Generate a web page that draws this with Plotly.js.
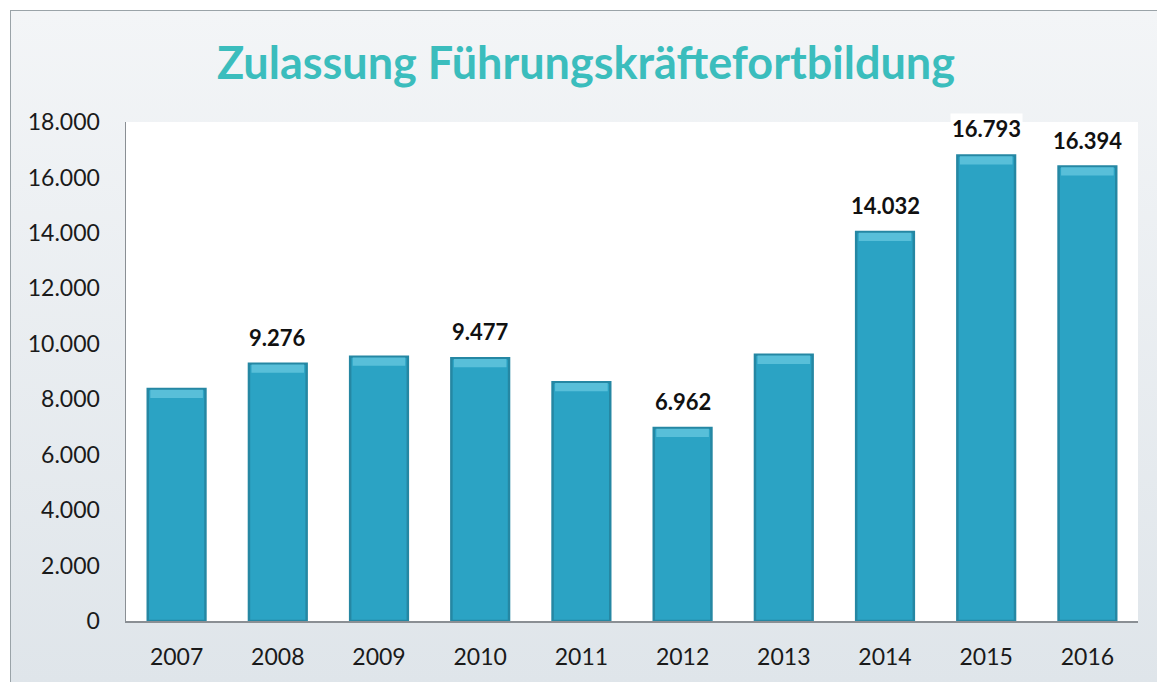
<!DOCTYPE html>
<html>
<head>
<meta charset="utf-8">
<script src="https://cdn.plot.ly/plotly-3.0.1.min.js"></script>
<style>
  html, body { margin: 0; padding: 0; width: 1157px; height: 682px; overflow: hidden; background: #ffffff; }
  #frame { position: absolute; left: 10px; top: 10px; width: 1147px; height: 672px;
           border-left: 1px solid #9aa3a8; border-top: 1px solid #9aa3a8;
           background: linear-gradient(#f3f5f7, #dfe5ea); }
  #chart { position: absolute; left: 0; top: 0; width: 1157px; height: 682px; }
</style>
</head>
<body>
<div id="frame"></div>
<div id="chart"></div>
<script>
const years = ['2007','2008','2009','2010','2011','2012','2013','2014','2015','2016'];
const values = [8370, 9276, 9530, 9477, 8610, 6962, 9600, 14032, 16793, 16394];
const labeledYears = ['2008','2010','2012','2014','2015','2016'];
const yTicks = [0, 2000, 4000, 6000, 8000, 10000, 12000, 14000, 16000, 18000];

const fmt = v => v.toLocaleString('de-DE');
const FONT = 'Lato, "Open Sans", sans-serif';

const bars = {
  type: 'bar', x: years, y: values, width: 0.57,
  marker: { color: '#2ba3c4', line: { color: '#2587a3', width: 2.5 } },
  hoverinfo: 'x+y'
};
// lighter bevel cap on top of each bar
const capH = 300;
const caps = {
  type: 'bar', x: years, y: values.map(() => capH), base: values.map(v => v - capH - 25), width: 0.52,
  marker: { color: '#58bfd9', line: { width: 0 } },
  hoverinfo: 'skip'
};

const annotations = years.map((yr, i) => labeledYears.includes(yr) ? {
  x: i, y: values[i], xref: 'x', yref: 'y', yanchor: 'bottom', yshift: 11,
  text: '<b>' + fmt(values[i]) + '</b>', showarrow: false, bgcolor: '#ffffff',
  font: { family: FONT, size: 22, color: '#111111' }
} : null).filter(a => a);

annotations.push({
  xref: 'paper', yref: 'paper', x: 0.455, y: 1, yshift: 60, xanchor: 'center', yanchor: 'middle',
  text: '<b>Zulassung Führungskräftefortbildung</b>', showarrow: false,
  font: { family: FONT, size: 45, color: '#3bbdbd' }
});

const layout = {
  width: 1157, height: 682,
  paper_bgcolor: 'rgba(0,0,0,0)', plot_bgcolor: '#ffffff',
  margin: { l: 126, r: 19, t: 122, b: 61 },
  separators: ',.',
  barmode: 'overlay', showlegend: false,
  xaxis: { type: 'category', range: [-0.5, 9.5], showline: true, linecolor: '#8a8f94', linewidth: 1.5, ticks: '',
           ticklabelstandoff: 15,
           tickfont: { family: FONT, size: 23, color: '#1a1a1a' }, showgrid: false, fixedrange: true },
  yaxis: { range: [0, 18000], tickvals: yTicks, ticktext: yTicks.map(fmt), showline: true,
           linecolor: '#8a8f94', linewidth: 1.5, ticks: '', showgrid: false, zeroline: false,
           ticklabelstandoff: 20,
           tickfont: { family: FONT, size: 23, color: '#1a1a1a' }, fixedrange: true },
  annotations: annotations
};

Plotly.newPlot('chart', [bars, caps], layout, { displayModeBar: false, staticPlot: true });
</script>
</body>
</html>
